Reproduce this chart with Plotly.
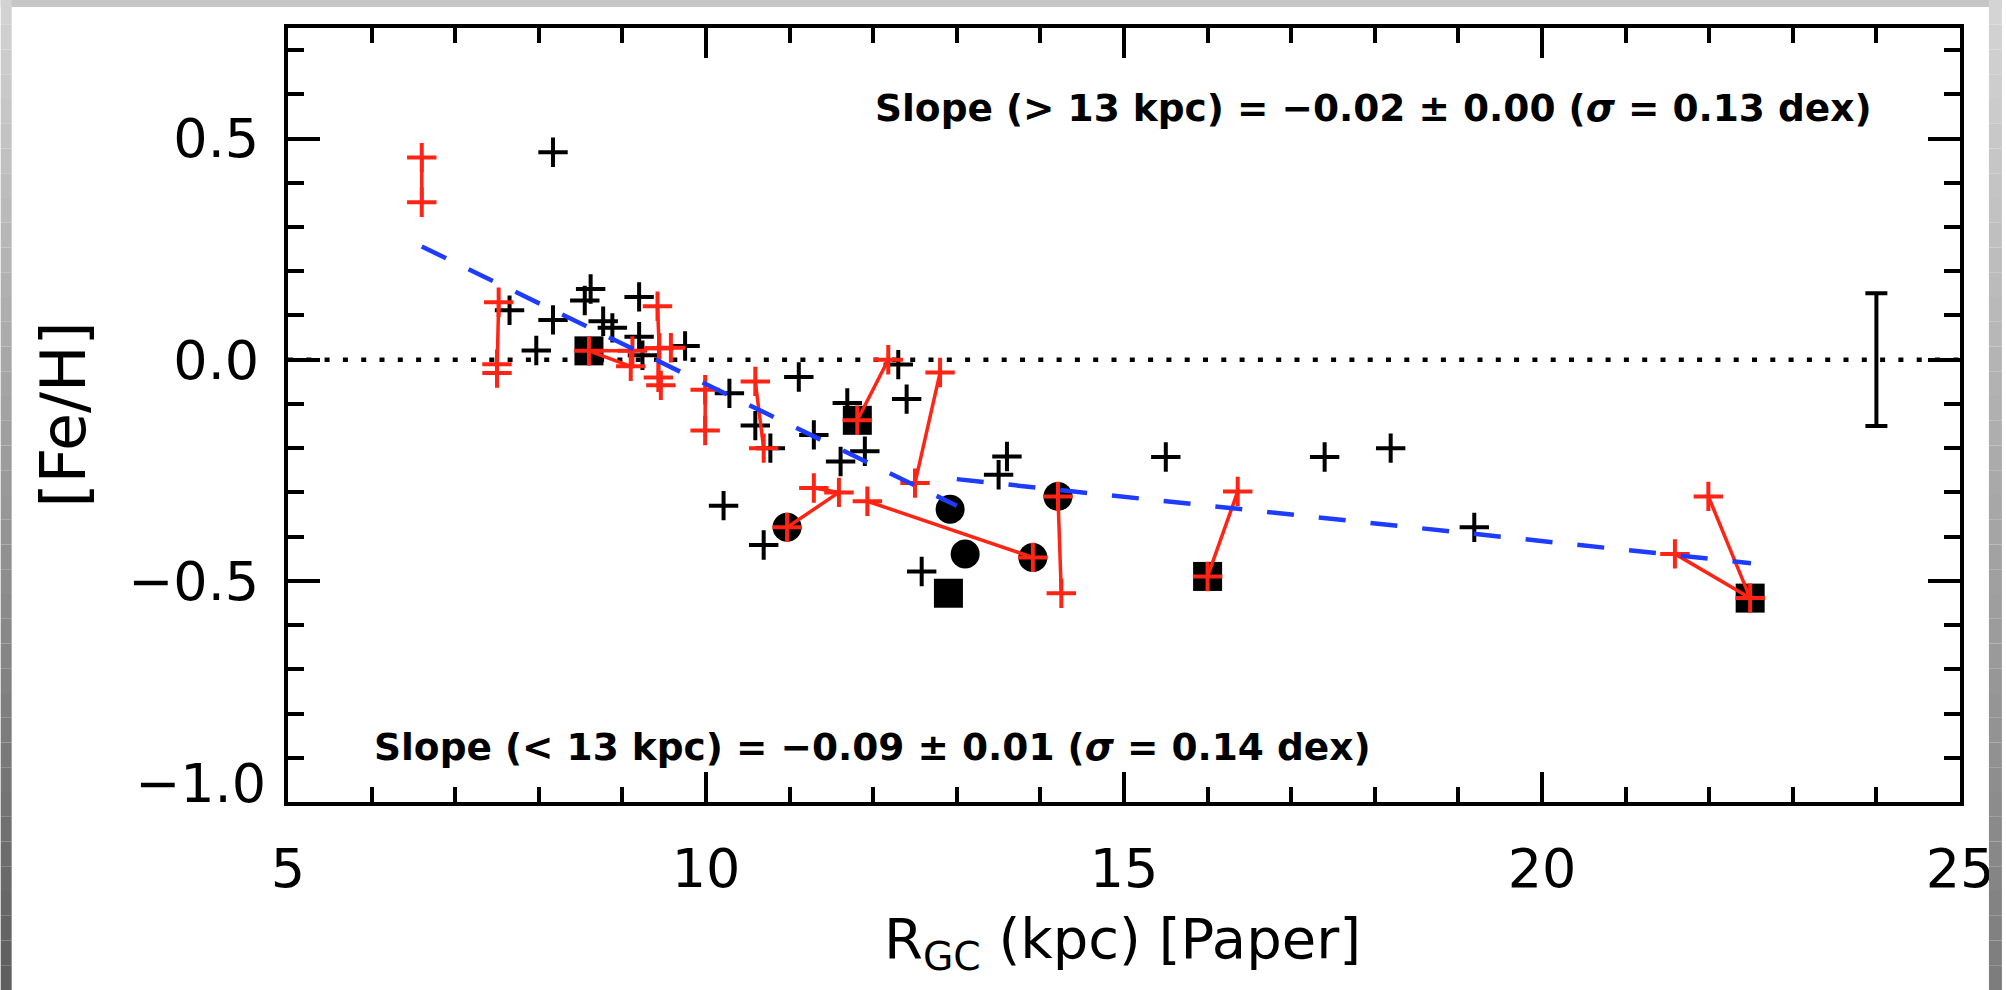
import plotly.graph_objects as go

# ---------------- data ----------------
# black plus symbols
bp_x = [8.17, 7.65, 7.97, 8.17, 8.62, 8.55, 9.20, 8.77, 8.88, 9.20, 9.24, 9.75,
        10.28, 11.11, 10.59, 10.77, 11.69, 12.30, 12.40, 11.29, 11.90, 11.61,
        10.21, 10.69, 12.58, 13.60, 13.50, 15.50, 17.40, 18.19, 19.19]
bp_y = [0.469, 0.112, 0.021, 0.090, 0.160, 0.134, 0.142, 0.087, 0.072, 0.052, 0.010, 0.031,
        -0.076, -0.039, -0.149, -0.200, -0.098, -0.011, -0.089, -0.170, -0.207, -0.230,
        -0.330, -0.419, -0.479, -0.219, -0.260, -0.220, -0.220, -0.200, -0.379]

# black filled circles
bc_x = [10.97, 12.92, 13.10, 13.91, 14.21]
bc_y = [-0.379, -0.338, -0.439, -0.447, -0.309]

# black filled squares
bs_x = [8.60, 11.81, 12.90, 16.00, 22.49]
bs_y = [0.020, -0.137, -0.528, -0.490, -0.539]

# red plus groups (connected by red lines)
red_groups_x = [
    [6.60, 6.60],
    [7.52, 7.50, 7.50],
    [9.12, 8.60, 9.10],
    [9.42, 9.44, 9.43, 9.46],
    [9.44, 9.58],
    [9.99, 9.99],
    [10.59, 10.69],
    [11.81, 12.18],
    [12.80, 12.50],
    [10.97, 11.59, 11.29],
    [11.93, 13.91],
    [14.21, 14.25],
    [16.00, 16.36],
    [21.59, 22.49, 21.99],
]
red_groups_y = [
    [0.457, 0.356],
    [0.130, -0.010, -0.030],
    [0.020, 0.020, -0.015],
    [0.121, 0.026, -0.040, -0.058],
    [0.026, 0.027],
    [-0.068, -0.160],
    [-0.049, -0.200],
    [-0.137, 0.000],
    [-0.029, -0.279],
    [-0.379, -0.300, -0.290],
    [-0.320, -0.447],
    [-0.309, -0.528],
    [-0.490, -0.298],
    [-0.439, -0.539, -0.309],
]

# gradient fits
fit_in_x = [6.6, 13.0]
fit_in_y = [0.256, -0.330]
fit_out_x = [13.0, 22.5]
fit_out_y = [-0.270, -0.460]

# solar reference line
zero_x = [5, 25]
zero_y = [0, 0]

# typical error bar
err_x = [24]
err_y = [0]
err_half = [0.15]

x_ticks = [5, 10, 15, 20, 25]
y_ticks = [-0.5, 0.0, 0.5]
y_ticktext = ["\u22120.5", "0.0", "0.5"]

# ---------------- figure ----------------
W, H = 2006, 990
L, R, T, B = 288, 42, 28, 188
PW, PH = W - L - R, H - T - B

def pxx(px):
    return (px - L) / PW

def pxy(py):
    return (H - B - py) / PH

RED = "#ff2414"
BLUE = "#1e3cff"

fig = go.Figure()

fig.add_trace(go.Scatter(x=zero_x, y=zero_y, mode="lines",
                         line=dict(color="black", width=4.5, dash="5px,13.3px"),
                         hoverinfo="skip", showlegend=False))

fig.add_trace(go.Scatter(x=bp_x, y=bp_y, mode="markers",
                         marker=dict(symbol="cross-thin", size=21,
                                     line=dict(width=4, color="black")),
                         showlegend=False))
fig.add_trace(go.Scatter(x=bc_x, y=bc_y, mode="markers",
                         marker=dict(symbol="circle", size=29, color="black",
                                     line=dict(width=0)),
                         showlegend=False))
fig.add_trace(go.Scatter(x=bs_x, y=bs_y, mode="markers",
                         marker=dict(symbol="square", size=29, color="black",
                                     line=dict(width=0)),
                         showlegend=False))

for gx, gy in zip(red_groups_x, red_groups_y):
    fig.add_trace(go.Scatter(x=gx, y=gy, mode="lines+markers",
                             line=dict(color=RED, width=3.5),
                             marker=dict(symbol="cross-thin", size=21,
                                         line=dict(width=4, color=RED)),
                             showlegend=False))

for fx, fy in ((fit_in_x, fit_in_y), (fit_out_x, fit_out_y)):
    fig.add_trace(go.Scatter(x=fx, y=fy, mode="lines",
                             line=dict(color=BLUE, width=4.5, dash="27px,25px"),
                             showlegend=False))

fig.add_trace(go.Scatter(x=err_x, y=err_y, mode="markers",
                         marker=dict(size=1, color="rgba(0,0,0,0)"),
                         error_y=dict(type="data", array=err_half, visible=True,
                                      color="black", thickness=4, width=11),
                         showlegend=False))

tickfont = dict(family="DejaVu Sans", size=54, color="black")

fig.update_xaxes(range=[5, 25], tickvals=x_ticks, ticks="inside", ticklen=30,
                 tickwidth=3.5, tickcolor="black", showline=True, linewidth=4,
                 linecolor="black", mirror="allticks", showgrid=False, zeroline=False,
                 tickfont=tickfont, ticklabelstandoff=16,
                 minor=dict(dtick=1, ticks="inside", ticklen=15, tickwidth=3.5,
                            tickcolor="black", showgrid=False))
fig.update_yaxes(range=[-1.0, 0.75], tickvals=y_ticks, ticktext=y_ticktext,
                 ticks="inside", ticklen=32, tickwidth=3.5, tickcolor="black",
                 showline=True, linewidth=4, linecolor="black", mirror="allticks",
                 showgrid=False, zeroline=False, tickfont=tickfont,
                 ticklabelstandoff=14,
                 minor=dict(dtick=0.1, ticks="inside", ticklen=16, tickwidth=3.5,
                            tickcolor="black", showgrid=False))

annotations = [
    dict(x=12.0, y=0.57, xref="x", yref="y", xanchor="left", yanchor="middle",
         text="<b>Slope (> 13 kpc) = \u22120.02 \u00b1 0.00 (<i>\u03c3</i> = 0.13 dex)</b>",
         showarrow=False, font=dict(family="DejaVu Sans", size=37.5, color="black")),
    dict(x=6.0, y=-0.876, xref="x", yref="y", xanchor="left", yanchor="middle",
         text="<b>Slope (< 13 kpc) = \u22120.09 \u00b1 0.01 (<i>\u03c3</i> = 0.14 dex)</b>",
         showarrow=False, font=dict(family="DejaVu Sans", size=37.5, color="black")),
    dict(x=pxx(268), y=pxy(783), xref="paper", yref="paper", xanchor="right",
         yanchor="middle", text="\u22121.0", showarrow=False, font=tickfont),
    dict(x=pxx(62), y=pxy(415), xref="paper", yref="paper", xanchor="center",
         yanchor="middle", text="[Fe/H]", textangle=-90, showarrow=False,
         font=dict(family="DejaVu Sans", size=62, color="black")),
    dict(x=pxx(1124), y=pxy(943), xref="paper", yref="paper", xanchor="center",
         yanchor="middle", text="R<sub>GC</sub> (kpc) [Paper]", showarrow=False,
         font=dict(family="DejaVu Sans", size=56, color="black")),
]

# gray screenshot frame
shapes = []
shapes.append(dict(type="rect", xref="paper", yref="paper", x0=pxx(0), x1=pxx(W),
                   y0=pxy(7), y1=pxy(0), fillcolor="#c6c6c6", line=dict(width=0),
                   layer="above"))
n = 40
for i in range(n):
    f = i / (n - 1)
    y0p, y1p = H * i / n, H * (i + 1) / n
    cl = int(210 - f * (210 - 95))
    cr = int(212 - f * (212 - 125))
    shapes.append(dict(type="rect", xref="paper", yref="paper", x0=pxx(0), x1=pxx(11),
                       y0=pxy(y1p), y1=pxy(y0p), fillcolor=f"rgb({cl},{cl},{cl})",
                       line=dict(width=0), layer="above"))
    shapes.append(dict(type="rect", xref="paper", yref="paper", x0=pxx(1993), x1=pxx(W),
                       y0=pxy(y1p), y1=pxy(y0p), fillcolor=f"rgb({cr},{cr},{cr})",
                       line=dict(width=0), layer="above"))

fig.update_layout(width=W, height=H, margin=dict(l=L, r=R, t=T, b=B),
                  paper_bgcolor="white", plot_bgcolor="white",
                  annotations=annotations, shapes=shapes, showlegend=False,
                  font=dict(family="DejaVu Sans", color="black"))

fig.write_html("out.html")
